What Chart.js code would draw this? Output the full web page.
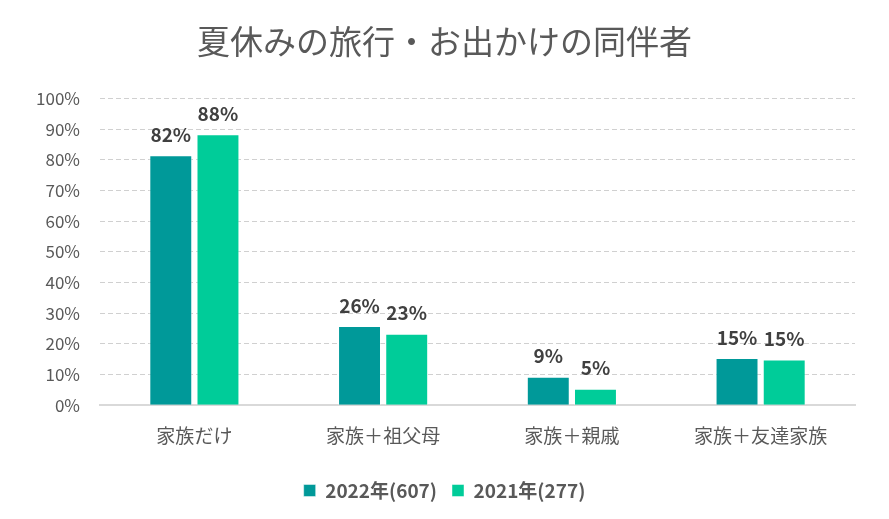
<!DOCTYPE html>
<html><head><meta charset="utf-8">
<script src="https://cdn.jsdelivr.net/npm/chart.js@4.4.1/dist/chart.umd.min.js"></script>
<style>html,body{margin:0;padding:0;background:#fff;}#wrap{width:889px;height:519px;}</style>
</head><body><div id="wrap"><canvas id="c" width="889" height="519"></canvas></div>
<script>
const categories = ['家族だけ', '家族＋祖父母', '家族＋親戚', '家族＋友達家族'];
const series2022 = [81.5, 25.8, 9.3, 15.4];
const series2021 = [88.4, 23.3, 5.4, 14.9];
const seriesNames = ['2022年(607)', '2021年(277)'];
const yTicks = [0,10,20,30,40,50,60,70,80,90,100];

const FONT = "'Noto Sans CJK JP', 'Noto Sans', sans-serif";
const labelPlugin = {
  id: 'valueLabels',
  afterDatasetsDraw(chart) {
    const ctx = chart.ctx;
    ctx.save();
    ctx.font = "bold 19px " + FONT;
    ctx.fillStyle = '#404040';
    ctx.textAlign = 'center';
    ctx.textBaseline = 'bottom';
    chart.data.datasets.forEach((ds, i) => {
      const meta = chart.getDatasetMeta(i);
      meta.data.forEach((el, j) => {
        ctx.fillText(Math.round(ds.data[j]) + '%', el.x, el.y - 11);
      });
    });
    ctx.restore();
  }
};

new Chart(document.getElementById('c'), {
  type: 'bar',
  data: {
    labels: categories,
    datasets: [
      {label: seriesNames[0], data: series2022, backgroundColor: '#009999', borderColor: 'rgba(255,255,255,0.45)', borderWidth: 1, categoryPercentage: 0.5, barPercentage: 0.91},
      {label: seriesNames[1], data: series2021, backgroundColor: '#00CC99', borderColor: 'rgba(255,255,255,0.45)', borderWidth: 1, categoryPercentage: 0.5, barPercentage: 0.91}
    ]
  },
  options: {
    responsive: false,
    animation: false,
    devicePixelRatio: 1,
    layout: {padding: {left: 34, right: 34, top: 0, bottom: 9}},
    plugins: {
      title: {display: true, text: '夏休みの旅行・お出かけの同伴者', color: '#595959',
        font: {family: FONT, size: 33, weight: 'normal'}, padding: {top: 22, bottom: 37}},
      legend: {position: 'bottom', labels: {color: '#595959', boxWidth: 12, boxHeight: 12,
        font: {family: FONT, size: 19, weight: 'bold'}, padding: 15}},
      tooltip: {enabled: false}
    },
    scales: {
      x: {
        grid: {display: false, drawTicks: false},
        border: {display: true, color: '#d9d9d9', width: 2},
        ticks: {color: '#595959', font: {family: FONT, size: 19}, padding: 19}
      },
      y: {
        min: 0, max: 100,
        afterBuildTicks(scale) { scale.ticks = yTicks.map(v => ({value: v})); },
        afterFit(scale) { scale.width = 66; },
        grid: {color: '#d0d0d0', drawTicks: false, lineWidth: 1},
        border: {display: false, dash: [5, 3]},
        ticks: {color: '#595959', font: {family: FONT, size: 17}, padding: 20,
          callback: v => v + '%'}
      }
    }
  },
  plugins: [labelPlugin]
});
</script></body></html>
